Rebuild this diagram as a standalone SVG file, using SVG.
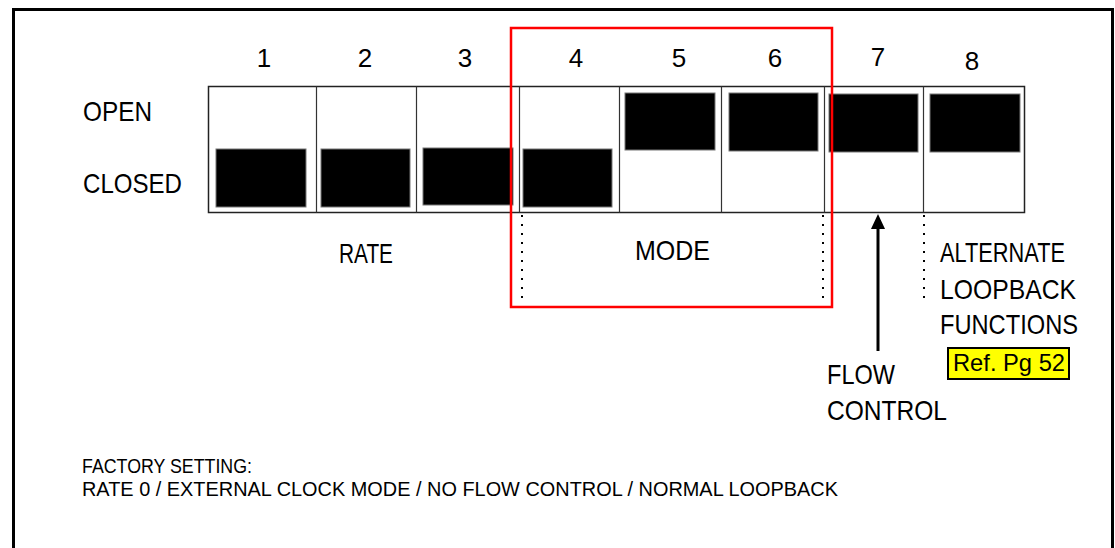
<svg xmlns="http://www.w3.org/2000/svg" width="1115" height="548" viewBox="0 0 1115 548">
<defs>
<style>
.lbl{font-family:"Liberation Sans",Arial,sans-serif;font-size:28px;fill:#000}
.num{font-family:"Liberation Sans",Arial,sans-serif;font-size:26px;fill:#000;text-anchor:middle}
.foot{font-family:"Liberation Sans",Arial,sans-serif;font-size:21px;fill:#000}
.blk{fill:#000;stroke:#777;stroke-width:1}
.div{stroke:#333;stroke-width:1.2;fill:none}
.dot{stroke:#000;stroke-width:2;stroke-dasharray:2 7;fill:none}
</style>
</defs>
<rect width="1115" height="548" fill="#fff"/>
<path d="M13.5,548 V9.5 H1112.5 V548" fill="none" stroke="#000" stroke-width="3"/>

<g id="switchbox">
<rect x="208.5" y="86.5" width="816" height="126" fill="#fff" stroke="#222" stroke-width="1.5"/>
<path class="div" d="M316.5,86.5V212.5 M416.5,86.5V212.5 M519.5,86.5V212.5 M619.5,86.5V212.5 M721.5,86.5V212.5 M824.5,86.5V212.5 M923.5,86.5V212.5"/>
</g>

<g id="sw1"><text class="num" x="264" y="67">1</text><rect class="blk" x="216" y="149" width="90" height="58"/></g>
<g id="sw2"><text class="num" x="365" y="67">2</text><rect class="blk" x="321" y="149" width="89" height="58"/></g>
<g id="sw3"><text class="num" x="465" y="67">3</text><rect class="blk" x="423" y="148" width="90" height="57"/></g>
<g id="sw4"><text class="num" x="576" y="67">4</text><rect class="blk" x="523" y="149" width="89" height="58"/></g>
<g id="sw5"><text class="num" x="679" y="67">5</text><rect class="blk" x="625" y="93" width="90" height="57"/></g>
<g id="sw6"><text class="num" x="775" y="67">6</text><rect class="blk" x="729" y="93" width="89" height="58"/></g>
<g id="sw7"><text class="num" x="878" y="66">7</text><rect class="blk" x="829" y="94" width="89" height="58"/></g>
<g id="sw8"><text class="num" x="972" y="70">8</text><rect class="blk" x="930" y="94" width="90" height="58"/></g>

<g id="row-labels">
<text class="lbl" x="83" y="121" textLength="69" lengthAdjust="spacingAndGlyphs">OPEN</text>
<text class="lbl" x="83" y="193" textLength="99" lengthAdjust="spacingAndGlyphs">CLOSED</text>
</g>

<g id="rate"><text class="lbl" x="339" y="263" textLength="54" lengthAdjust="spacingAndGlyphs">RATE</text></g>

<g id="mode">
<rect x="511" y="28" width="321" height="279" fill="none" stroke="#f00" stroke-width="2.5"/>
<text class="lbl" x="635" y="260" textLength="75" lengthAdjust="spacingAndGlyphs">MODE</text>
</g>

<g id="flow-control">
<text class="lbl" x="827" y="384" textLength="68" lengthAdjust="spacingAndGlyphs">FLOW</text>
<text class="lbl" x="827" y="420" textLength="120" lengthAdjust="spacingAndGlyphs">CONTROL</text>
</g>

<g id="alternate">
<text class="lbl" x="940" y="262" textLength="125" lengthAdjust="spacingAndGlyphs">ALTERNATE</text>
<text class="lbl" x="940" y="299" textLength="136" lengthAdjust="spacingAndGlyphs">LOOPBACK</text>
<text class="lbl" x="940" y="334" textLength="138" lengthAdjust="spacingAndGlyphs">FUNCTIONS</text>
<rect x="948" y="348" width="121" height="31" fill="#ff0" stroke="#000" stroke-width="2"/>
<text x="953" y="371" font-family="'Liberation Sans',Arial,sans-serif" font-size="24" textLength="112" lengthAdjust="spacingAndGlyphs">Ref. Pg 52</text>
</g>

<g id="connectors">
<path class="dot" d="M522,215V299 M823,215V299 M924,215V301"/>
<line x1="878" y1="351" x2="878" y2="226" stroke="#000" stroke-width="3"/>
<polygon points="878,214 871,229 885,229" fill="#000"/>
</g>

<g id="factory">
<text class="foot" x="82" y="473" textLength="170" lengthAdjust="spacingAndGlyphs">FACTORY SETTING:</text>
<text class="foot" x="82" y="496" textLength="756" lengthAdjust="spacingAndGlyphs">RATE 0 / EXTERNAL CLOCK MODE / NO FLOW CONTROL / NORMAL LOOPBACK</text>
</g>
</svg>
